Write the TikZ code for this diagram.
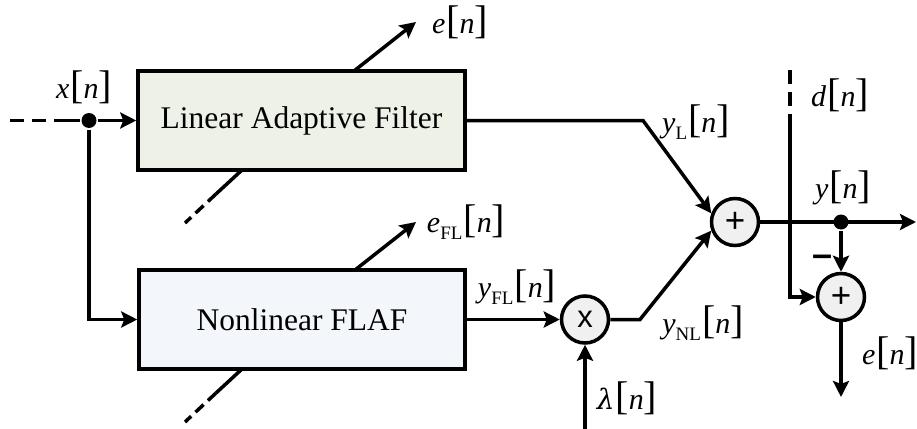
\documentclass[tikz,border=0pt]{standalone}
\usepackage{fontspec}
\setmainfont{Liberation Serif}
\newfontfamily\sansf{Liberation Sans}
\usetikzlibrary{arrows.meta}
\definecolor{lafill}{HTML}{EEF1E6}
\definecolor{nlfill}{HTML}{F3F6FA}
\definecolor{opfill}{HTML}{F0F0F0}
\newcommand{\bk}[1]{{\fontsize{40}{40}\selectfont#1}}
\newcommand{\sg}[2]{\textit{#1}\raisebox{-0.25em}{\fontsize{19}{19}\selectfont #2}\kern1pt\bk{[}\textit{n}\bk{]}}
\newcommand{\sgn}[1]{\textit{#1}\kern1pt\bk{[}\textit{n}\bk{]}}
\begin{document}
\begin{tikzpicture}[x=1pt,y=-1pt,line width=3.5pt,
  arr/.style={-{Stealth[length=16pt,width=16pt,inset=3pt]}},
  dsh/.style={dash pattern=on 14pt off 8pt},
  blk/.style={draw,rectangle,inner sep=0pt,font=\fontsize{31.5}{31.5}\selectfont},
  op/.style={draw,circle,fill=opfill,minimum size=47pt,inner sep=0pt,font=\sansf\fontsize{35}{35}\selectfont},
  jdot/.style={circle,fill=black,minimum size=15pt,inner sep=0pt},
  lab/.style={inner sep=0pt,font=\fontsize{30}{30}\selectfont}]
\useasboundingbox (0,0) rectangle (917,428);
% boxes
\node[blk,fill=lafill,minimum width=327pt,minimum height=99pt] (laf) at (301.5,120.5) {Linear Adaptive Filter};
\node[blk,fill=nlfill,minimum width=326pt,minimum height=99pt] (nl) at (302,319.5) {Nonlinear FLAF};
% input
\coordinate (xin) at (10,120.5);
\coordinate (xsol) at (58,120.5);
\node[jdot] (xd) at (89,120.5) {};
\draw[dsh] (xin) -- (xsol);
\draw (xsol) -- (xd);
\draw[arr] (xd) -- (laf.west);
\draw[arr] (xd) |- (nl.west);
\node[lab] (xlab) at (84,87) {\sgn{x}};
% diagonal adaptation lines
\coordinate (a1) at (242,170);
\coordinate (a2) at (216,194);
\coordinate (a3) at (185,223);
\draw (a1) -- (a2);
\draw[dash pattern=on 11pt off 6pt] (a2) -- (a3);
\coordinate (b1) at (242,369);
\coordinate (b2) at (216,393);
\coordinate (b3) at (185,422);
\draw (b1) -- (b2);
\draw[dash pattern=on 11pt off 6pt] (b2) -- (b3);
\coordinate (ea0) at (354,71);
\coordinate (ea1) at (416,22);
\draw[arr] (ea0) -- (ea1);
\node[lab] (elab) at (460,22) {\sgn{e}};
\coordinate (eb0) at (355,270);
\coordinate (eb1) at (416,222);
\draw[arr] (eb0) -- (eb1);
\node[lab] (eflab) at (466,222) {\sg{e}{FL}};
% combination
\node[op] (s1) at (735,222) {+};
\node[op,font=\sansf\fontsize{31}{31}\selectfont] (mul) at (585,319.5) {x};
\coordinate (yLb) at (643,120.5);
\draw[arr] (laf.east) -- (yLb) -- (s1.160);
\node[lab] (yllab) at (696,122) {\sg{y}{L}};
\draw[arr] (nl.east) -- (mul);
\node[lab] (yfllab) at (517,287) {\sg{y}{FL}};
\coordinate (yNLb) at (640,319.5);
\draw[arr] (mul) -- (yNLb) -- (s1.200);
\node[lab] (ynllab) at (703,323) {\sg{y}{NL}};
\coordinate (lam0) at (585,430);
\draw[arr] (lam0) -- (mul);
\node[lab] (lamlab) at (627,398) {\sgn{\fontspec{DejaVu Serif}\itshape\fontsize{28}{28}\selectfont λ}};
% output and error
\coordinate (yout) at (916,222);
\draw[arr] (s1) -- (yout);
\node[jdot] (yd) at (841,222) {};
\node[lab] (ylab) at (843,188) {\sgn{y}};
\node[op] (s2) at (841,297) {+};
\coordinate (d0) at (790,70);
\coordinate (d1) at (790,118);
\draw[dash pattern=on 14pt off 8pt] (d0) -- (d1);
\draw[arr] (d1) |- (s2);
\node[lab] (dlab) at (840,95) {\sgn{d}};
\draw[arr] (yd) -- (s2);
\node[lab,font=\sansf\bfseries\fontsize{36}{36}\selectfont] (minus) at (822,261) {–};
\coordinate (eout) at (841,397);
\draw[arr] (s2) -- (eout);
\node[lab] (elab2) at (890,353) {\sgn{e}};
\end{tikzpicture}
\end{document}
